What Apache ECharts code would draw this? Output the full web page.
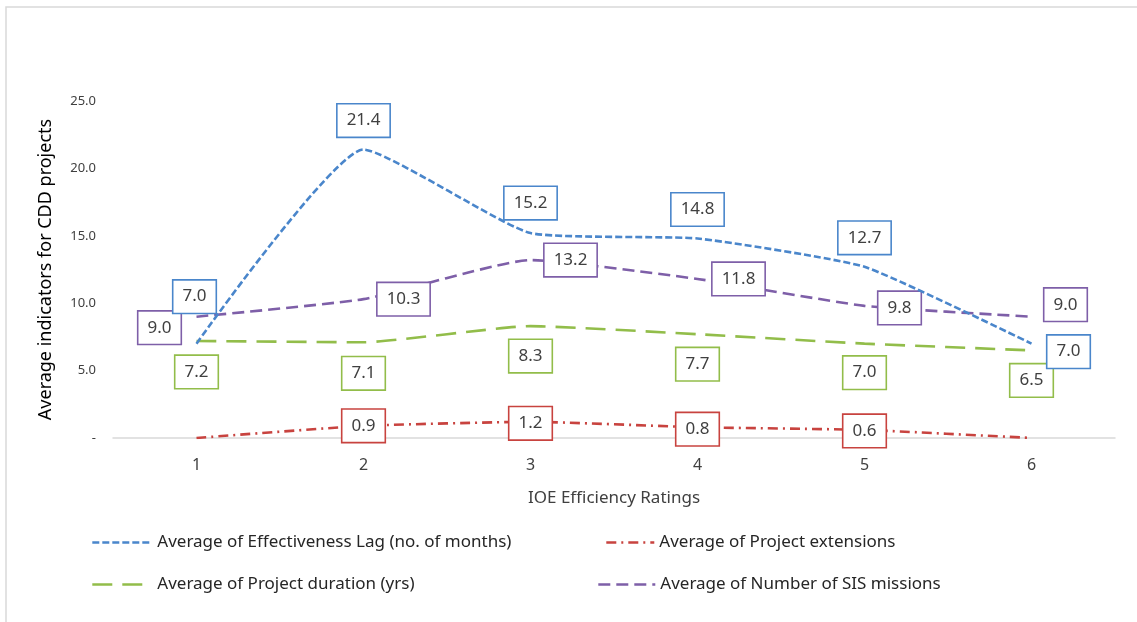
<!DOCTYPE html>
<html>
<head>
<meta charset="utf-8">
<script src="https://cdn.jsdelivr.net/npm/echarts@6/dist/echarts.min.js"></script>
<style>
html,body{margin:0;padding:0;background:#fff;}
#c{width:1137px;height:622px;}
</style>
</head>
<body>
<div id="c"></div>
<script>
const categories = ['1','2','3','4','5','6'];
const effectivenessLag = [7.0, 21.4, 15.2, 14.8, 12.7, 7.0];
const projectExtensions = [0.0, 0.9, 1.2, 0.8, 0.6, 0.0];
const projectDuration = [7.2, 7.1, 8.3, 7.7, 7.0, 6.5];
const sisMissions = [9.0, 10.3, 13.2, 11.8, 9.8, 9.0];
const yTicks = [0, 5, 10, 15, 20, 25];

const names = [
  'Average of Effectiveness Lag (no. of months)',
  'Average of Project extensions',
  'Average of Project duration (yrs)',
  'Average of Number of SIS missions'
];
const colors = ['#4a86cb', '#c8433f', '#92bd4a', '#7e5fa8'];

// label offsets (px) relative to each point
const offBlue = [[-2,-47],[0,-29],[0,-30],[0,-29],[0,-29],[37,8]];
const offRed = [null,[0,0],[0,1.5],[0,2],[0,1],null];
const offGreen = [[0,31],[0,31],[0,30],[0,30],[0,29],[0,30]];
const offPurple = [[-37,11],[40,0],[40,0],[41,0],[35,2],[34,-12]];

function labelBase(color){
  return {
    show: true, position: 'inside',
    formatter: p => p.value.toFixed(1),
    fontFamily: 'Noto Sans', fontSize: 17, color: '#404040',
    backgroundColor: '#fff', borderColor: color, borderWidth: 1.6,
    padding: [6, 9, 6, 9], lineHeight: 20
  };
}
function buildData(vals, offs){
  return vals.map((v, i) => offs[i] ? {value: v} : {value: v, label: {show: false}});
}
function series(i, vals, offs, dash, z){
  return {
    name: names[i], type: 'line', smooth: 0.15, z: z,
    symbol: 'circle', symbolSize: 1, showSymbol: true,
    itemStyle: {color: 'rgba(0,0,0,0)'},
    lineStyle: {color: colors[i], width: 2.6, type: dash},
    label: labelBase(colors[i]),
    labelLayout: function(p){
      const o = offs[p.dataIndex] || [0, 0];
      return {dx: o[0], dy: o[1], hideOverlap: false};
    },
    emphasis: {disabled: true},
    data: buildData(vals, offs)
  };
}

const legendText = {fontFamily: 'Noto Sans', fontSize: 17, color: '#262626'};
function legend(name, left, top, w){
  return {
    data: [name], left: left, top: top, itemWidth: w, itemHeight: 14, itemGap: 0,
    textStyle: legendText, selectedMode: false,
    itemStyle: {opacity: 0}, lineStyle: {width: 2.6}
  };
}

const chart = echarts.init(document.getElementById('c'), null, {renderer: 'canvas'});
chart.setOption({
  backgroundColor: '#fff',
  animation: false,
  graphic: [{
    type: 'rect', shape: {x: 6, y: 7, width: 1200, height: 700},
    style: {fill: 'none', stroke: '#d9d9d9', lineWidth: 1.5}, silent: true, z: -10
  }],
  grid: {left: 113, right: 22, top: 101, bottom: 184},
  legend: [
    legend(names[0], 86, 529, 60),
    legend(names[1], 600, 529, 48),
    legend(names[2], 86, 571, 60),
    legend(names[3], 592, 571, 57)
  ],
  xAxis: {
    type: 'category', data: categories, boundaryGap: true,
    axisLine: {lineStyle: {color: '#d9d9d9', width: 1.5}},
    axisTick: {show: false},
    axisLabel: {fontFamily: 'Noto Sans', fontSize: 16, color: '#404040', margin: 19},
    name: 'IOE Efficiency Ratings', nameLocation: 'middle', nameGap: 52,
    nameTextStyle: {fontFamily: 'Noto Sans', fontSize: 17, color: '#404040'}
  },
  yAxis: {
    type: 'value', min: yTicks[0], max: yTicks[yTicks.length-1], interval: 5,
    axisLine: {show: false}, axisTick: {show: false}, splitLine: {show: false},
    axisLabel: {fontFamily: 'Noto Sans', fontSize: 13, color: '#404040', margin: 17,
      formatter: v => v === 0 ? '-' : v.toFixed(1)},
    name: 'Average indicators for CDD projects', nameLocation: 'middle', nameGap: 58,
    nameTextStyle: {fontFamily: 'Noto Sans', fontSize: 18, color: '#000'}
  },
  series: [
    series(3, sisMissions, offPurple, [12, 6], 2),
    series(2, projectDuration, offGreen, [20, 10], 2),
    series(1, projectExtensions, offRed, [10, 5, 2, 5], 3),
    series(0, effectivenessLag, offBlue, [7, 3], 4)
  ]
});
</script>
</body>
</html>
